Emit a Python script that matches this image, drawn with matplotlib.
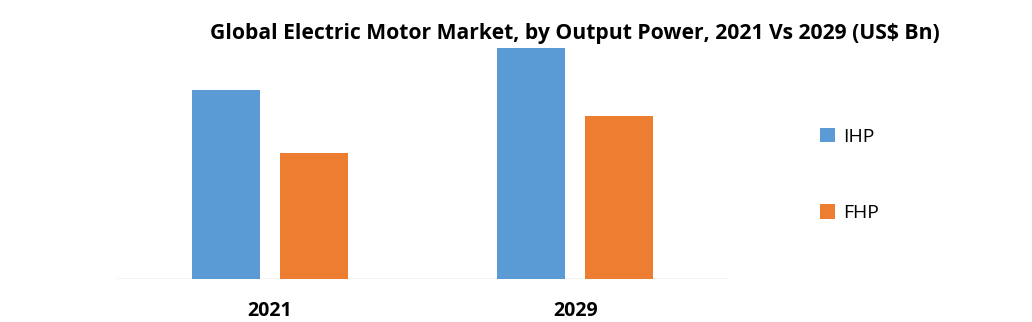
import matplotlib.pyplot as plt
import numpy as np

plt.rcParams['font.family'] = ['Open Sans', 'DejaVu Sans']

years = ['2021', '2029']
ihp = [18.9, 23.1]
fhp = [12.6, 16.3]

fig = plt.figure(figsize=(10.32, 3.22), dpi=100)
ax = fig.add_axes([117/1032, 0.1335, (728-117)/1032, 0.7764])

x = np.arange(len(years))
w = 0.223
off = 0.144
ax.bar(x - off, ihp, w, color='#5b9bd5', label='IHP', zorder=2)
ax.bar(x + off, fhp, w, color='#ed7d31', label='FHP', zorder=2)

ax.set_xlim(-0.5, 1.5)
ax.set_ylim(0, 25)
ax.axhline(0, color='#c8c8c8', lw=1, zorder=1)
for s in ax.spines.values():
    s.set_visible(False)
ax.set_yticks([])
ax.set_xticks(x)
ax.set_xticklabels(years, fontsize=14, fontweight='bold')
ax.tick_params(axis='x', length=0, pad=16)

fig.text(575/1032, 1 - 33/322, 'Global Electric Motor Market, by Output Power, 2021 Vs 2029 (US$ Bn)',
         ha='center', va='center', fontsize=15.2, fontweight='bold')

fig.legend(loc='upper left', bbox_to_anchor=(802/1032, 1 - 110/322), frameon=False,
           fontsize=14, handlelength=0.8, handleheight=0.8, handletextpad=0.4,
           labelspacing=3.0)

fig.savefig('out.png', dpi=100)
